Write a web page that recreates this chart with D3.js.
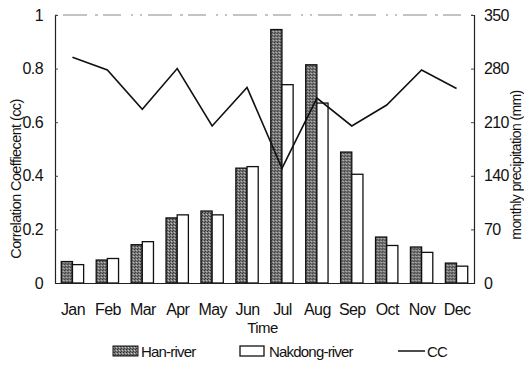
<!DOCTYPE html>
<html lang="en">
<head>
    <meta charset="UTF-8">
    <title>Han / Nakdong precipitation and CC</title>
    <script src="https://d3js.org/d3.v7.min.js"></script>
    <style>
        body { margin: 0; background: #fff; }
        svg text {
            font-family: 'Liberation Sans Narrow', 'Arial Narrow', 'Liberation Sans', Arial, sans-serif;
            fill: #111;
        }
        .tick-label { font-size: 16px; letter-spacing: -0.6px; }
        .axis-title { font-size: 15px; letter-spacing: -0.6px; }
        .legend-text { font-size: 15px; letter-spacing: -0.8px; }
    </style>
</head>
<body>
    <svg id="chart" width="524" height="369"></svg>

    <script>
        // data
        const months = ["Jan", "Feb", "Mar", "Apr", "May", "Jun", "Jul", "Aug", "Sep", "Oct", "Nov", "Dec"];
        const hanRiver = [28, 30, 50, 85, 94, 150, 331, 285, 171, 60, 47, 26];       // mm
        const nakdongRiver = [24, 32, 54, 89, 89, 152, 259, 235, 142, 49, 40, 22];  // mm
        const cc = [0.842, 0.795, 0.648, 0.80, 0.586, 0.73, 0.428, 0.69, 0.586, 0.664, 0.795, 0.726];
        const leftTicks = [0, 0.2, 0.4, 0.6, 0.8, 1];
        const rightTicks = [0, 70, 140, 210, 280, 350];

        const margin = { top: 15, right: 50, bottom: 86, left: 55 };
        const width = 524 - margin.left - margin.right;
        const height = 369 - margin.top - margin.bottom;

        const svg = d3.select("#chart");
        const g = svg.append("g").attr("transform", `translate(${margin.left},${margin.top})`);

        // stippled fill for the Han-river bars
        const defs = svg.append("defs");
        const pat = defs.append("pattern")
            .attr("id", "stipple")
            .attr("width", 3).attr("height", 3)
            .attr("patternUnits", "userSpaceOnUse");
        pat.append("rect").attr("width", 3).attr("height", 3).attr("fill", "#7a7a7a");
        pat.append("rect").attr("x", 0).attr("y", 0).attr("width", 1).attr("height", 1).attr("fill", "#2e2e2e");
        pat.append("rect").attr("x", 2).attr("y", 1).attr("width", 1).attr("height", 1).attr("fill", "#c4c4c4");
        pat.append("rect").attr("x", 1).attr("y", 2).attr("width", 1).attr("height", 1).attr("fill", "#3a3a3a");

        const x = d3.scaleBand().domain(months).range([0, width]).paddingInner(0.36).paddingOuter(0.18);
        const xp = d3.scalePoint().domain(months).range([0, width]).padding(0.5);
        const xSub = d3.scaleBand().domain(["han", "nak"]).range([0, x.bandwidth()]);
        const yL = d3.scaleLinear().domain([0, 1]).range([height, 0]);
        const yR = d3.scaleLinear().domain([0, 350]).range([height, 0]);

        // frame: broken faint top edge
        g.append("line")
            .attr("x1", 0).attr("x2", width).attr("y1", 0).attr("y2", 0)
            .attr("stroke", "#888").attr("stroke-width", 1)
            .attr("stroke-dasharray", "2,6,24,8,3,5,18,10,2,7");

        // bars
        const groups = g.selectAll(".month")
            .data(months)
            .enter().append("g")
            .attr("transform", d => `translate(${x(d)},0)`);

        groups.append("rect")
            .attr("x", xSub("han"))
            .attr("y", (d, i) => yR(hanRiver[i]))
            .attr("width", xSub.bandwidth())
            .attr("height", (d, i) => height - yR(hanRiver[i]))
            .attr("fill", "url(#stipple)")
            .attr("stroke", "#111").attr("stroke-width", 1.3);

        groups.append("rect")
            .attr("x", xSub("nak"))
            .attr("y", (d, i) => yR(nakdongRiver[i]))
            .attr("width", xSub.bandwidth())
            .attr("height", (d, i) => height - yR(nakdongRiver[i]))
            .attr("fill", "#fff")
            .attr("stroke", "#111").attr("stroke-width", 1.3);

        // CC line
        const line = d3.line().x((d, i) => xp(months[i])).y(d => yL(d));
        g.append("path")
            .datum(cc)
            .attr("fill", "none")
            .attr("stroke", "#111")
            .attr("stroke-width", 1.6)
            .attr("d", line);

        // axes
        const leftAxis = g.append("g")
            .call(d3.axisRight(yL).tickValues(leftTicks).tickSize(3).tickFormat(d3.format("")));
        leftAxis.selectAll("text")
            .attr("class", "tick-label")
            .attr("x", -12).attr("text-anchor", "end");

        const rightAxis = g.append("g")
            .attr("transform", `translate(${width},0)`)
            .call(d3.axisLeft(yR).tickValues(rightTicks).tickSize(3));
        rightAxis.selectAll("text")
            .attr("class", "tick-label")
            .attr("x", 10).attr("text-anchor", "start");

        const bottomAxis = g.append("g")
            .attr("transform", `translate(0,${height})`)
            .call(d3.axisBottom(xp).tickSize(0));
        bottomAxis.selectAll("text")
            .attr("class", "tick-label")
            .attr("y", 21);

        svg.selectAll(".domain").attr("stroke", "#222").attr("stroke-width", 1.2);
        svg.selectAll(".tick line").attr("stroke", "#444");
        svg.selectAll(".tick text").attr("fill", "#111");

        // axis titles
        g.append("text")
            .attr("class", "axis-title")
            .attr("text-anchor", "middle")
            .attr("x", width / 2 - 2)
            .attr("y", height + 50)
            .text("Time");

        g.append("text")
            .attr("class", "axis-title")
            .attr("text-anchor", "middle")
            .style("font-size", "14.5px")
            .attr("transform", `translate(${-margin.left + 21},${height / 2 + 30}) rotate(-90)`)
            .text("Correlation Coeffiecent (cc)");

        g.append("text")
            .attr("class", "axis-title")
            .attr("text-anchor", "middle")
            .style("font-size", "14px")
            .attr("transform", `translate(${width + 47},${height / 2 + 16}) rotate(-90)`)
            .text("monthly precipitation (mm)");

        // legend
        const legend = svg.append("g").attr("transform", "translate(0,352)");
        legend.append("rect")
            .attr("x", 113).attr("y", -6).attr("width", 25).attr("height", 10)
            .attr("fill", "url(#stipple)").attr("stroke", "#111").attr("stroke-width", 1);
        legend.append("text").attr("class", "legend-text").attr("x", 141).attr("y", 5).text("Han-river");

        legend.append("rect")
            .attr("x", 240).attr("y", -6).attr("width", 24).attr("height", 10)
            .attr("fill", "#fff").attr("stroke", "#111").attr("stroke-width", 1.3);
        legend.append("text").attr("class", "legend-text").attr("x", 269).attr("y", 5).text("Nakdong-river");

        legend.append("line")
            .attr("x1", 398).attr("x2", 425).attr("y1", -1).attr("y2", -1)
            .attr("stroke", "#111").attr("stroke-width", 1.5);
        legend.append("text").attr("class", "legend-text").attr("x", 427).attr("y", 5).text("CC");
    </script>
</body>
</html>
